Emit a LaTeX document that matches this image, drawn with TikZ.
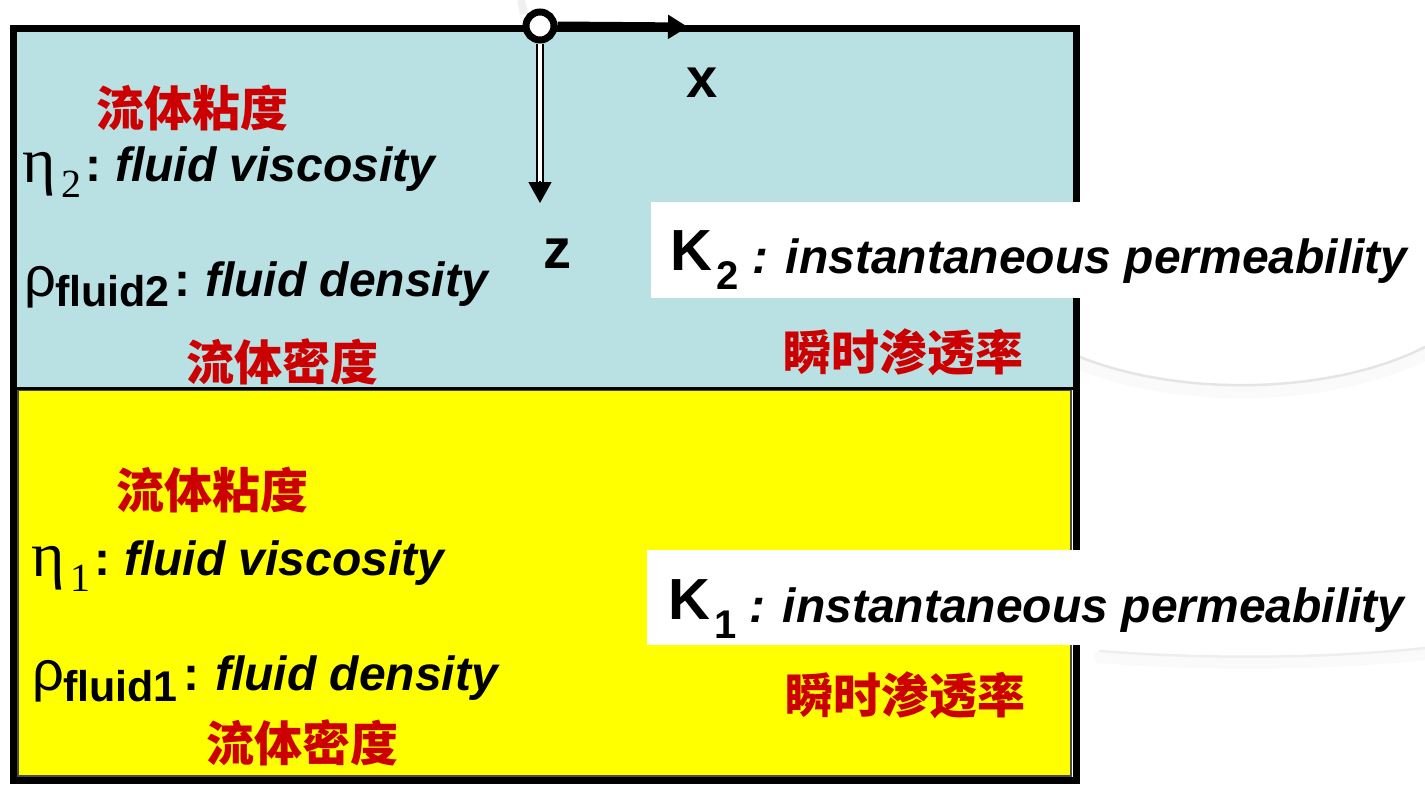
\documentclass[tikz,border=0pt]{standalone}
\usepackage{fontspec}
\setmainfont{Liberation Sans}
\newfontfamily\serifgr{Liberation Serif}
\newfontfamily\cjk{Noto Sans CJK SC}
\usetikzlibrary{arrows.meta}
\definecolor{layertop}{RGB}{185,224,227}
\definecolor{layerbot}{RGB}{255,255,0}
\definecolor{cnred}{RGB}{204,0,0}
\begin{document}
\begin{tikzpicture}[x=1pt,y=-1pt,
  cn/.style={font=\cjk\bfseries\fontsize{48}{48}\selectfont, text=cnred, inner sep=0pt, anchor=center},
  lbl/.style={font=\bfseries\itshape\fontsize{48}{48}\selectfont, inner sep=0pt, anchor=base west},
  colonup/.style={font=\bfseries\fontsize{48}{48}\selectfont, inner sep=0pt, anchor=base west},
  greek/.style={font=\serifgr\fontsize{64}{64}\selectfont, inner sep=0pt, anchor=base west},
  greeksub/.style={font=\serifgr\fontsize{40}{40}\selectfont, inner sep=0pt, anchor=base west},
  rho/.style={font=\fontsize{56}{56}\selectfont, inner sep=0pt, anchor=base west},
  boldsub/.style={font=\bfseries\fontsize{43}{43}\selectfont, inner sep=0pt, anchor=base west},
  kbig/.style={font=\bfseries\fontsize{58}{58}\selectfont, inner sep=0pt, anchor=base west},
  ksub/.style={font=\bfseries\fontsize{40}{40}\selectfont, inner sep=0pt, anchor=base west},
  axislbl/.style={font=\bfseries\fontsize{56}{56}\selectfont, inner sep=0pt, anchor=base west},
  whitebox/.style={fill=white, draw=none},
  swoosh/.style={line width=2.5pt, color=gray!20, line cap=round},
  swooshhalo/.style={line width=12pt, color=gray!4, line cap=round}
]
\useasboundingbox (0,0) rectangle (1425,785);
\fill[white] (0,0) rectangle (1425,785);

% faint background swooshes
\draw[swooshhalo] (1080,364) .. controls (1180,404) and (1330,402) .. (1425,354);
\draw[swoosh] (1080,357) .. controls (1180,397) and (1330,395) .. (1425,347);
\draw[swooshhalo] (1100,657) .. controls (1200,665) and (1320,665) .. (1425,654);
\draw[swoosh, color=gray!13] (1100,651) .. controls (1200,659) and (1320,659) .. (1425,648);
\draw[line width=8pt, color=gray!12] (521,0) -- (524,14);

% two fluid layers
\fill[layertop] (16,31) rectangle (1073,388);
\filldraw[fill=layerbot, draw=black!70, line width=1.5pt] (18,390) rectangle (1071,776);
\draw[line width=3pt] (16,388) -- (1073,388);

% outer frame
\draw[line width=7pt] (13.5,28) rectangle (1076,780.5);

% white label strips over the right edge
\fill[whitebox] (651,202) rectangle (1425,298);
\fill[whitebox] (647,550) rectangle (1425,645);

% coordinate axes
\node[circle, draw, fill=white, line width=7pt, minimum size=28pt, inner sep=0pt] (o) at (540,26) {};
\coordinate (xtip) at (688,27);
\coordinate (zshaft) at (540,183);
\coordinate (zarrow) at (540,181);
\coordinate (ztip) at (540,203);
\draw[line width=9pt, -{Triangle[length=20pt,width=23pt]}] (o.east) -- (xtip);
\draw[line width=2pt, double=white, double distance=4pt] (o.south) -- (zshaft);
\draw[line width=1.5pt, -{Triangle[length=21pt,width=23pt]}] (zarrow) -- (ztip);
\node[axislbl] (xl) at (686,97) {x};
\node[axislbl] (zl) at (543,268) {z};

% upper layer labels
\node[cn] (visc2cn) at (192,108) {流体粘度};
\node[greek] (eta2) at (22,182) {η};
\node[greeksub] (eta2s) at (61,197) {2};
\node[colonup] (eta2c) at (85,181) {:};
\node[lbl] (visc2) at (115,181) {fluid viscosity};
\node[rho] (rho2) at (24,296) {ρ};
\node[boldsub] (rho2s) at (55,306) {fluid2};
\node[colonup] (rho2c) at (174,296) {:};
\node[lbl] (dens2) at (205,296) {fluid density};
\node[cn] (dens2cn) at (282,362) {流体密度};
\node[kbig] (k2) at (670,270) {K};
\node[ksub] (k2s) at (716,289) {2};
\node[lbl] (perm2) at (752,273) {: instantaneous permeability};
\node[cn] (perm2cn) at (903,352) {瞬时渗透率};

% lower layer labels
\node[cn] (visc1cn) at (212,490) {流体粘度};
\node[greek] (eta1) at (31,576) {η};
\node[greeksub] (eta1s) at (70,591) {1};
\node[colonup] (eta1c) at (94,575) {:};
\node[lbl] (visc1) at (124,575) {fluid viscosity};
\node[rho] (rho1) at (32,690) {ρ};
\node[boldsub] (rho1s) at (63,701) {fluid1};
\node[colonup] (rho1c) at (183,690) {:};
\node[lbl] (dens1) at (215,690) {fluid density};
\node[cn] (dens1cn) at (302,743) {流体密度};
\node[kbig] (k1) at (668,619) {K};
\node[ksub] (k1s) at (714,638) {1};
\node[lbl] (perm1) at (749,622) {: instantaneous permeability};
\node[cn] (perm1cn) at (905,695) {瞬时渗透率};
\end{tikzpicture}
\end{document}
